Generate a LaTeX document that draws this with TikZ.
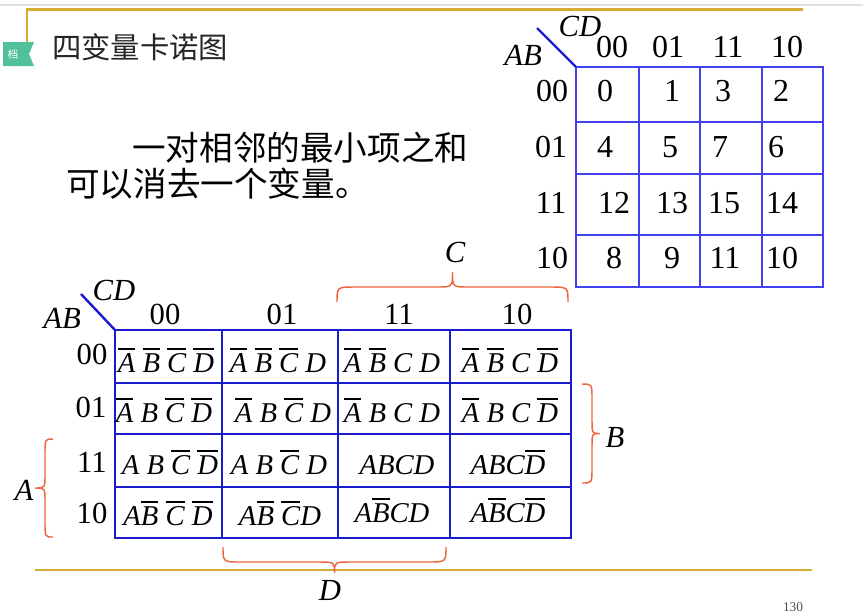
\documentclass[tikz,border=0pt]{standalone}
\usepackage{fontspec}
\setmainfont{Liberation Serif}
\newfontfamily\cjk{Noto Sans CJK SC}
\definecolor{mapblue}{RGB}{25,25,205}
\definecolor{mapbluelight}{RGB}{65,65,240}
\definecolor{bracered}{RGB}{238,100,60}
\definecolor{rulegold}{RGB}{212,172,52}
\definecolor{tabgreen}{RGB}{82,192,152}
\def\nb#1{\vbox{\hrule height 1pt\kern 2.6pt\hbox{\itshape #1}}}
\def\hbrace(#1:#2:#3:#4:#5){\draw[bracered,line width=1.1pt] (#1,#3) .. controls (#1,#4) .. ({#1+18},#4) -- ({(#1+#2)/2-16},#4) .. controls ({(#1+#2)/2},#4) .. ({(#1+#2)/2},#5) .. controls ({(#1+#2)/2},#4) .. ({(#1+#2)/2+16},#4) -- ({#2-18},#4) .. controls (#2,#4) .. (#2,#3);}
\def\vbrace(#1:#2:#3:#4:#5){\draw[bracered,line width=1.1pt] (#3,#1) .. controls (#4,#1) .. (#4,{#1+15}) -- (#4,{(#1+#2)/2-13}) .. controls (#4,{(#1+#2)/2}) .. (#5,{(#1+#2)/2}) .. controls (#4,{(#1+#2)/2}) .. (#4,{(#1+#2)/2+13}) -- (#4,{#2-15}) .. controls (#4,#2) .. (#3,#2);}

\begin{document}
\begin{tikzpicture}[x=0.75pt,y=-0.75pt,
    lbl/.style={font=\fontsize{23}{25}\selectfont, inner sep=0pt},
    itlbl/.style={font=\fontsize{23}{25}\selectfont\itshape, inner sep=0pt},
    num/.style={font=\fontsize{24}{26}\selectfont, inner sep=0pt},
    cell/.style={font=\fontsize{21.5}{24}\selectfont\itshape, inner sep=0pt, anchor=base}]
	%%%%% START %%%%%
	\useasboundingbox (0,0) rectangle (863,615);
	
	% slide frame
	\draw[black!12, line width=1pt] (0,5) -- (863,5);
	\draw[rulegold, line width=1.6pt] (27,42) -- (27,9.5) -- (803,9.5);
	\draw[rulegold, line width=1.6pt] (35,570) -- (812,570);
	\fill[tabgreen] (3,42) -- (34,42) -- (29,54) -- (34,66) -- (3,66) -- cycle;
	\node[white, inner sep=0pt, font=\cjk\fontsize{8}{8}\selectfont] (tag) at (13,54) {档};
	\node[black!85, inner sep=0pt, anchor=west, font=\cjk\fontsize{22}{24}\selectfont] (title) at (52,47) {四变量卡诺图};
	\node[inner sep=0pt, anchor=west, font=\cjk\fontsize{25.2}{27}\selectfont] (line1) at (132,148) {一对相邻的最小项之和};
	\node[inner sep=0pt, anchor=west, font=\cjk\fontsize{25.2}{27}\selectfont] (line2) at (66,184) {可以消去一个变量。};
	\node[black!70, inner sep=0pt, font=\fontsize{10}{10}\selectfont] (page) at (793,607) {130};
	
	% small map with numbers
	\draw[mapbluelight, line width=2pt] (576,67) rectangle (823,287);
	\draw[mapbluelight, line width=2pt] (639,67) -- (639,287);
	\draw[mapbluelight, line width=2pt] (700,67) -- (700,287);
	\draw[mapbluelight, line width=2pt] (762,67) -- (762,287);
	\draw[mapbluelight, line width=2pt] (576,122) -- (823,122);
	\draw[mapbluelight, line width=2pt] (576,174) -- (823,174);
	\draw[mapbluelight, line width=2pt] (576,235) -- (823,235);
	\draw[mapblue, line width=1.8pt] (537,28) -- (576,67);
	\node[itlbl] (cdS) at (580,26) {CD};
	\node[itlbl] (abS) at (523,55) {AB};
	\node[num] (sc0) at (612,47) {00};
	\node[num] (sc1) at (668,47) {01};
	\node[num] (sc2) at (728,47) {11};
	\node[num] (sc3) at (787,47) {10};
	\node[num] (sr0) at (552,91) {00};
	\node[num] (sr1) at (551,147) {01};
	\node[num] (sr2) at (551,203) {11};
	\node[num] (sr3) at (552,258) {10};
	\node[num] (m0) at (605,91) {0};
	\node[num] (m1) at (672,91) {1};
	\node[num] (m3) at (723,91) {3};
	\node[num] (m2) at (781,91) {2};
	\node[num] (m4) at (605,147) {4};
	\node[num] (m5) at (670,147) {5};
	\node[num] (m7) at (720,147) {7};
	\node[num] (m6) at (776,147) {6};
	\node[num] (m12) at (614,203) {12};
	\node[num] (m13) at (672,203) {13};
	\node[num] (m15) at (724,203) {15};
	\node[num] (m14) at (782,203) {14};
	\node[num] (m8) at (614,258) {8};
	\node[num] (m9) at (672,258) {9};
	\node[num] (m11) at (725,258) {11};
	\node[num] (m10) at (782,258) {10};
	
	% big map with minterms
	\draw[mapblue, line width=2.2pt] (115,330) rectangle (571,538);
	\draw[mapblue, line width=2.2pt] (222,330) -- (222,538);
	\draw[mapblue, line width=2.2pt] (338,330) -- (338,538);
	\draw[mapblue, line width=2.2pt] (450,330) -- (450,538);
	\draw[mapblue, line width=2.2pt] (115,383) -- (571,383);
	\draw[mapblue, line width=2.2pt] (115,434) -- (571,434);
	\draw[mapblue, line width=2.2pt] (115,487) -- (571,487);
	\draw[mapblue, line width=1.8pt] (81,294) -- (115,330);
	\node[itlbl] (cdB) at (114,290) {CD};
	\node[itlbl] (abB) at (62,318) {AB};
	\node[lbl] (bc0) at (165,314) {00};
	\node[lbl] (bc1) at (282,314) {01};
	\node[lbl] (bc2) at (399,314) {11};
	\node[lbl] (bc3) at (517,314) {10};
	\node[lbl] (br0) at (92,354) {00};
	\node[lbl] (br1) at (91,407) {01};
	\node[lbl] (br2) at (92,462) {11};
	\node[lbl] (br3) at (92,513) {10};
	
	\node[cell] (t0) at (166,372) {\nb{A} \nb{B} \nb{C} \nb{D}};
	\node[cell] (t1) at (278,372) {\nb{A} \nb{B} \nb{C} D};
	\node[cell] (t3) at (392,372) {\nb{A} \nb{B} C D};
	\node[cell] (t2) at (510,372) {\nb{A} \nb{B} C \nb{D}};
	\node[cell] (t4) at (164,422) {\nb{A} B \nb{C} \nb{D}};
	\node[cell] (t5) at (283,422) {\nb{A} B \nb{C} D};
	\node[cell] (t7) at (392,422) {\nb{A} B C D};
	\node[cell] (t6) at (510,422) {\nb{A} B C \nb{D}};
	\node[cell] (t12) at (170,474) {A B \nb{C} \nb{D}};
	\node[cell] (t13) at (279,474) {A B \nb{C} D};
	\node[cell] (t15) at (397,474) {ABCD};
	\node[cell] (t14) at (508,474) {ABC\nb{D}};
	\node[cell] (t8) at (168,525) {A\nb{B} \nb{C} \nb{D}};
	\node[cell] (t9) at (280,525) {A\nb{B} \nb{C}D};
	\node[cell] (t11) at (392,522) {A\nb{B}CD};
	\node[cell] (t10) at (508,522) {A\nb{B}C\nb{D}};
	
	% braces
	\hbrace(337:568:302:287:272);
	\node[itlbl] (varC) at (455,252) {C};
	\vbrace(384:483:582:592:600);
	\node[itlbl] (varB) at (615,437) {B};
	\vbrace(439:537:53:45:35);
	\node[itlbl] (varA) at (24,490) {A};
	\hbrace(223:446:547:562:573);
	\node[itlbl] (varD) at (330,590) {D};
	%%%%% END %%%%%
\end{tikzpicture}
\end{document}
